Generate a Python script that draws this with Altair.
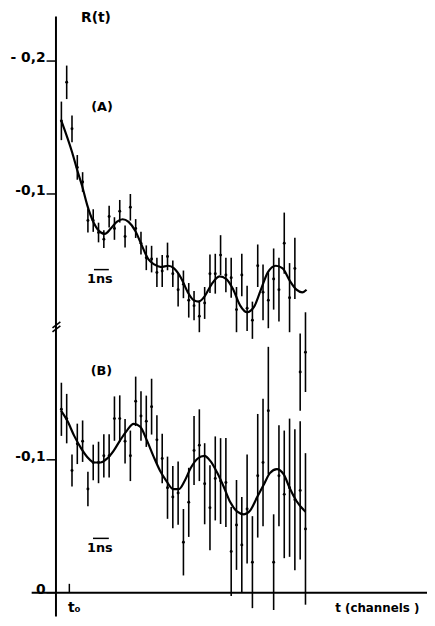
import altair as alt
import pandas as pd

# ---------------- data ----------------
channels = list(range(-2, 45))  # channel number, t0 = 0

# curve (A): measured points and their errors (R(t) units)
a_value = [0.155, 0.184, 0.149, 0.120, 0.109, 0.080, 0.080, 0.071, 0.066, 0.083,
           0.074, 0.087, 0.068, 0.090, 0.074, 0.063, 0.052, 0.051, 0.041, 0.042,
           0.053, 0.040, 0.028, 0.032, 0.020, 0.016, 0.008, 0.018, 0.040, 0.040,
           0.054, 0.039, 0.037, 0.013, 0.039, 0.014, 0.005, 0.046, 0.026, 0.020,
           0.036, 0.028, 0.063, 0.022, 0.044, -0.034, -0.019]
a_error = [0.0145, 0.0126, 0.010, 0.0093, 0.0074, 0.0089, 0.0085, 0.0074, 0.0067, 0.0082,
           0.0085, 0.0085, 0.0082, 0.010, 0.0071, 0.0085, 0.0093, 0.010, 0.011, 0.012,
           0.0104, 0.010, 0.0126, 0.0104, 0.013, 0.011, 0.012, 0.012, 0.0145, 0.015,
           0.015, 0.013, 0.015, 0.017, 0.016, 0.017, 0.014, 0.016, 0.021, 0.021,
           0.023, 0.024, 0.023, 0.026, 0.023, 0.029, 0.030]

# curve (B)
b_value = [0.138, 0.131, 0.092, 0.112, 0.114, 0.078, 0.098, 0.098, 0.103, 0.103,
           0.131, 0.131, 0.114, 0.103, 0.144, 0.133, 0.129, 0.140, 0.115, 0.101,
           0.079, 0.072, 0.075, 0.038, 0.068, 0.107, 0.111, 0.082, 0.064, 0.086,
           0.084, 0.083, 0.031, 0.051, 0.036, 0.063, 0.023, 0.088, 0.098, 0.137,
           0.023, 0.088, 0.074, 0.079, 0.070, 0.077, 0.048]
b_error = [0.020, 0.0186, 0.012, 0.0152, 0.0156, 0.013, 0.0134, 0.0156, 0.0163, 0.0163,
           0.0167, 0.0175, 0.0167, 0.019, 0.0186, 0.0186, 0.0193, 0.021, 0.0186, 0.0186,
           0.0234, 0.0234, 0.0238, 0.025, 0.026, 0.026, 0.027, 0.0305, 0.032, 0.0316,
           0.0323, 0.0335, 0.0335, 0.0338, 0.036, 0.041, 0.0346, 0.0465, 0.048, 0.048,
           0.036, 0.038, 0.048, 0.052, 0.053, 0.052, 0.057]

# fitted curves
fit_a_channel = [-2.0, 0.05, 0.98, 1.91, 2.84, 4.14, 5.45, 6.19, 7.31, 8.43,
                 9.55, 10.66, 11.97, 13.08, 14.38, 15.5, 16.8, 18.11, 19.23, 20.53,
                 21.83, 22.95, 23.88, 25.0, 26.3, 27.79, 29.1, 30.4, 31.7, 33.0,
                 34.3, 35.6, 36.9, 38.4, 39.7, 41.0, 42.3, 43.4, 44.2]
fit_a_value = [0.155, 0.131, 0.118, 0.106, 0.092, 0.078, 0.071, 0.070, 0.074, 0.079,
               0.081, 0.079, 0.072, 0.062, 0.051, 0.047, 0.045, 0.046, 0.044, 0.037,
               0.026, 0.020, 0.019, 0.023, 0.032, 0.038, 0.036, 0.028, 0.016, 0.011,
               0.015, 0.028, 0.041, 0.046, 0.044, 0.035, 0.028, 0.026, 0.028]
fit_b_channel = [-2.06, -0.83, 0.42, 1.67, 2.9, 4.15, 5.39, 6.62, 7.87, 9.12,
                 10.35, 11.6, 12.84, 14.07, 15.32, 16.57, 17.8, 19.04, 20.16, 21.22,
                 22.4, 23.7, 24.95, 26.1, 27.4, 28.67, 29.84, 31.15, 32.4, 33.6,
                 34.9, 36.1, 37.3, 38.6, 39.9, 41.0, 42.3, 44.0]
fit_b_value = [0.137, 0.129, 0.118, 0.109, 0.102, 0.098, 0.098, 0.101, 0.107, 0.115,
               0.122, 0.127, 0.125, 0.115, 0.103, 0.092, 0.084, 0.078, 0.078, 0.084,
               0.094, 0.101, 0.103, 0.099, 0.090, 0.079, 0.068, 0.061, 0.059, 0.062,
               0.072, 0.081, 0.090, 0.093, 0.089, 0.079, 0.069, 0.061]

# axis tick labels (broken axis: (A) above, (B) below)
tick_value = [0.2, 0.1, 0.1, 0.0]
tick_panel = ["A", "A", "B", "B"]
tick_label = ["- 0,2", "-0,1", "-0,1", "0"]

# ---------------- layout constants ----------------
A_OFFSET = 0.2            # panel (A) is drawn this far above panel (B)
X_DOMAIN = [-12.06, 66.9]
Y_DOMAIN = [-0.0178, 0.4372]
W, H = 424, 612
FONT = "DejaVu Sans"
AXIS_X = -3.02            # channel position of the vertical axis line
LABEL_X = -4.98
TICK_X0 = -4.79

off = {"A": A_OFFSET, "B": 0.0}

pts = pd.concat([
    pd.DataFrame({"c": channels, "v": a_value, "err": a_error, "panel": "A"}),
    pd.DataFrame({"c": channels, "v": b_value, "err": b_error, "panel": "B"}),
])
pts["y"] = pts["v"] + pts["panel"].map(off)
pts["lo"] = pts["y"] - pts["err"]
pts["hi"] = pts["y"] + pts["err"]

fit = pd.concat([
    pd.DataFrame({"c": fit_a_channel, "v": fit_a_value, "panel": "A"}),
    pd.DataFrame({"c": fit_b_channel, "v": fit_b_value, "panel": "B"}),
])
fit["y"] = fit["v"] + fit["panel"].map(off)

ticks = pd.DataFrame({"v": tick_value, "panel": tick_panel, "label": tick_label})
ticks["y"] = ticks["v"] + ticks["panel"].map(off)
ticks["x"] = TICK_X0
ticks["x2"] = AXIS_X
ticks["lx"] = LABEL_X

xs = alt.Scale(domain=X_DOMAIN, nice=False, zero=False)
ys = alt.Scale(domain=Y_DOMAIN, nice=False, zero=False)

def X(f):
    return alt.X(f, type="quantitative", scale=xs, axis=None)

def Y(f):
    return alt.Y(f, type="quantitative", scale=ys, axis=None)

# axis lines (vertical R(t) axis and horizontal t axis)
axes_df = pd.DataFrame({
    "x": [AXIS_X, -7.6], "x2": [AXIS_X, 66.9],
    "y": [-0.0178, 0.0], "y2": [0.4335, 0.0],
})
axes = alt.Chart(axes_df).mark_rule(color="black", strokeWidth=2).encode(
    x=X("x"), x2="x2", y=Y("y"), y2="y2")

# axis break marks "//"
brk = pd.DataFrame({"x": [-3.68, -3.68], "x2": [-2.19, -2.19],
                    "y": [0.1993, 0.1963], "y2": [0.2037, 0.2007]})
breaks = alt.Chart(brk).mark_rule(color="black", strokeWidth=1.6).encode(
    x=X("x"), x2="x2", y=Y("y"), y2="y2")

tick_rules = alt.Chart(ticks).mark_rule(color="black", strokeWidth=1.5).encode(
    x=X("x"), x2="x2", y=Y("y"))
tick_text = alt.Chart(ticks).mark_text(
    align="right", baseline="alphabetic", dy=1, font=FONT, fontSize=14,
    fontWeight="bold", color="black").encode(x=X("lx"), y=Y("y"), text="label:N")

err_bars = alt.Chart(pts).mark_rule(color="black", strokeWidth=1.6).encode(
    x=X("c"), y=Y("lo"), y2="hi")
dots = alt.Chart(pts).mark_circle(color="black", size=9, opacity=1).encode(
    x=X("c"), y=Y("y"))
curves = alt.Chart(fit).mark_line(color="black", strokeWidth=2.2,
                                  interpolate="monotone").encode(
    x=X("c"), y=Y("y"), detail="panel:N", order="c:Q")

# annotations
ann = pd.DataFrame({
    "x": [4.52, 5.65, 5.55, 5.26, 5.26, 0.42],
    "y": [0.4327, 0.3651, 0.1665, 0.2357, 0.0335, -0.0112],
    "t": ["R(t)", "(A)", "(B)", "1ns", "1ns", "t\u2080"],
    "s": [14, 13, 13, 13, 13, 14],
})
ann_text = alt.Chart(ann).mark_text(
    align="center", baseline="middle", font=FONT, fontWeight="bold",
    color="black").encode(x=X("x"), y=Y("y"), text="t:N",
                          size=alt.Size("s:Q", scale=None, legend=None))

xlab = pd.DataFrame({"x": [49.6], "y": [-0.0112], "t": ["t (channels )"]})
xlab_text = alt.Chart(xlab).mark_text(
    align="left", baseline="middle", font=FONT, fontSize=12, fontWeight="bold",
    color="black").encode(x=X("x"), y=Y("y"), text="t:N")

# 1 ns scale bars and t0 tick
bars_df = pd.DataFrame({"x": [4.14, 3.96, -0.5], "x2": [6.94, 6.94, -0.5],
                        "y": [0.2431, 0.0409, 0.0], "y2": [0.2431, 0.0409, 0.0067]})
scale_bars = alt.Chart(bars_df).mark_rule(color="black", strokeWidth=1.5).encode(
    x=X("x"), x2="x2", y=Y("y"), y2="y2")

chart = alt.layer(
    axes, breaks, tick_rules, tick_text, err_bars, dots, curves,
    ann_text, xlab_text, scale_bars
).properties(
    width=W, height=H, autosize=alt.AutoSizeParams(type="none"), padding=0,
    background="white"
).configure_view(stroke=None)

chart.save("out.html", embed_options={"renderer": "svg", "actions": False})
